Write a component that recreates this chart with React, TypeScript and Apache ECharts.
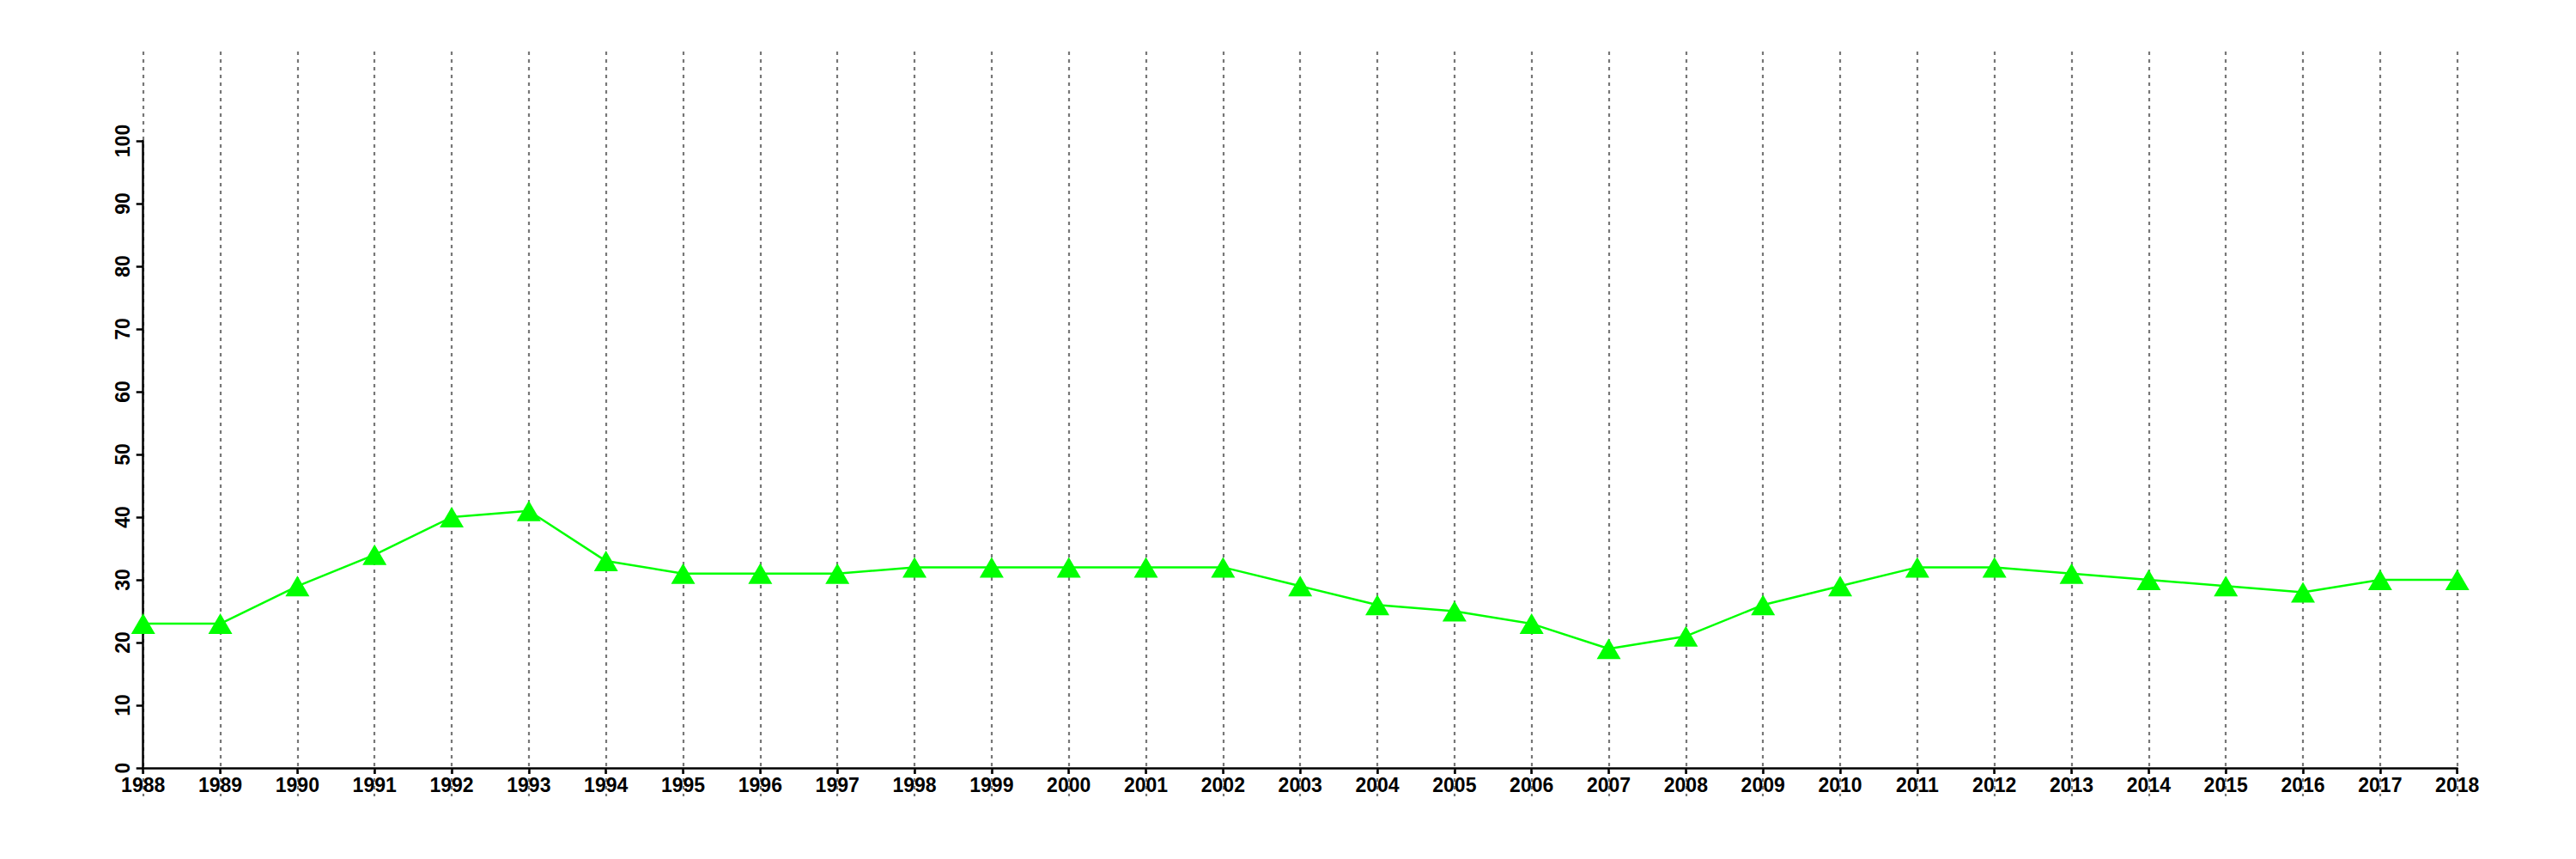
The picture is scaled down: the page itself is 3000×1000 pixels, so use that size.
import React, { useEffect, useRef } from "react";
import * as echarts from "echarts";

const years: string[] = [
  "1988", "1989", "1990", "1991", "1992", "1993", "1994", "1995", "1996", "1997",
  "1998", "1999", "2000", "2001", "2002", "2003", "2004", "2005", "2006", "2007",
  "2008", "2009", "2010", "2011", "2012", "2013", "2014", "2015", "2016", "2017", "2018",
];

const values: number[] = [
  23, 23, 29, 34, 40, 41, 33, 31, 31, 31,
  32, 32, 32, 32, 32, 29, 26, 25, 23, 19,
  21, 26, 29, 32, 32, 31, 30, 29, 28, 30, 30,
];

const yMin = 0;
const yMax = 100;
const yStep = 10;

export default function App() {
  const ref = useRef<HTMLDivElement>(null);

  useEffect(() => {
    if (!ref.current) return;
    const chart = echarts.init(ref.current, undefined, { renderer: "svg" });
    const font = "'Liberation Sans', Arial, Helvetica, sans-serif";
    chart.setOption({
      animation: false,
      backgroundColor: "#ffffff",
      grid: [
        { left: 166.7, right: 138.3, top: 60, bottom: 73 },
        { left: 166.7, right: 138.3, top: 164, bottom: 106 },
      ],
      xAxis: [
        {
          type: "category",
          gridIndex: 0,
          data: years,
          boundaryGap: false,
          axisLine: { show: false },
          axisTick: { show: false },
          axisLabel: { show: false },
          splitLine: {
            show: true,
            lineStyle: { color: "#777777", width: 2.2, type: [4, 5] },
          },
        },
        {
          type: "category",
          gridIndex: 1,
          data: years,
          boundaryGap: false,
          axisLine: { show: true, lineStyle: { color: "#000", width: 2.5 } },
          axisTick: { show: true, length: 7, lineStyle: { color: "#000", width: 2.5 } },
          axisLabel: {
            show: true,
            color: "#000",
            fontFamily: font,
            fontWeight: "bold",
            fontSize: 23,
            margin: 8,
            interval: 0,
          },
          splitLine: { show: false },
        },
      ],
      yAxis: [
        {
          type: "value",
          gridIndex: 0,
          min: 0,
          max: 1,
          show: false,
          splitLine: { show: false },
        },
        {
          type: "value",
          gridIndex: 1,
          min: yMin,
          max: yMax,
          interval: yStep,
          axisLine: { show: true, lineStyle: { color: "#000", width: 2.5 } },
          axisTick: { show: true, length: 8, lineStyle: { color: "#000", width: 2.5 } },
          axisLabel: {
            show: true,
            color: "#000",
            fontFamily: font,
            fontWeight: "bold",
            fontSize: 23,
            rotate: 90,
            margin: 12,
          },
          splitLine: { show: false },
        },
      ],
      series: [
        {
          type: "line",
          xAxisIndex: 1,
          yAxisIndex: 1,
          data: values,
          symbol: "triangle",
          symbolSize: [28, 24],
          showAllSymbol: true,
          lineStyle: { color: "#00ff00", width: 2.5 },
          itemStyle: { color: "#00ff00" },
          z: 5,
        },
      ],
    });
    return () => chart.dispose();
  }, []);

  return (
    <div
      ref={ref}
      style={{ position: "fixed", left: 0, top: 0, width: 3000, height: 1000 }}
    />
  );
}
